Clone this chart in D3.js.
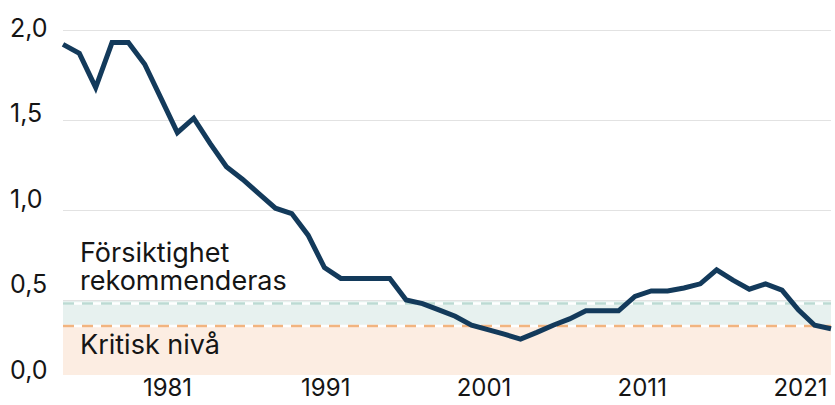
<!DOCTYPE html>
<html>
<head>
<meta charset="utf-8">
<script src="https://cdn.jsdelivr.net/npm/d3@7"></script>
<style>
  body { margin: 0; background: #fff; }
  svg text { font-family: Inter, "Noto Sans", sans-serif; fill: #151515; }
  .grid line { stroke: #e2e2e2; stroke-width: 1; }
  .grid path { display: none; }
  .ticks path { display: none; }
</style>
</head>
<body>
<div class="chart"></div>
<script>
// values
var years = d3.range(1975, 2023);
var values = [1.92, 1.87, 1.68, 1.93, 1.93, 1.81, 1.62, 1.43, 1.51, 1.37, 1.24, 1.17, 1.09, 1.01, 0.98, 0.86,
              0.68, 0.62, 0.62, 0.62, 0.62, 0.50, 0.48, 0.445, 0.41, 0.36, 0.335, 0.31, 0.283, 0.32, 0.36, 0.395,
              0.44, 0.44, 0.44, 0.52, 0.55, 0.55, 0.567, 0.59, 0.667, 0.61, 0.56, 0.59, 0.555, 0.445, 0.36, 0.34];
var yTicks = [0, 0.5, 1.0, 1.5, 2.0];
var xTicks = [1981, 1991, 2001, 2011, 2021];
var cautionLevel = 0.48;
var criticalLevel = 0.355;
var cautionText = ["Försiktighet", "rekommenderas"];
var criticalText = "Kritisk nivå";

var svgWidth = 835;
var svgHeight = 405;
var plotLeft = 63, plotRight = 831, plotBottom = 375;

var svg = d3.select(".chart")
    .append("svg")
    .attr("width", svgWidth)
    .attr("height", svgHeight);

var x = d3.scaleLinear().domain([1975, 2022]).range([plotLeft, plotRight]);
var y = d3.scaleLinear().domain([0, 2]).range([390, 30]);
// tick labels sit on their own scale in the original graphic
var yLabel = d3.scaleLinear().domain([0, 2]).range([370, 28]);
var xLabel = d3.scaleLinear().domain([1981, 2021]).range([167, 800]);

// shaded zones
svg.append("rect")
    .attr("x", plotLeft).attr("width", plotRight - plotLeft)
    .attr("y", y(0.5)).attr("height", y(criticalLevel) - y(0.5))
    .attr("fill", "#e7f1ef");
svg.append("rect")
    .attr("x", plotLeft).attr("width", plotRight - plotLeft)
    .attr("y", y(criticalLevel)).attr("height", plotBottom - y(criticalLevel))
    .attr("fill", "#fcede2");

// gridlines
svg.append("g")
    .attr("class", "grid")
    .attr("transform", "translate(" + plotLeft + ",0)")
    .call(d3.axisRight(y).tickValues([0.5, 1, 1.5, 2]).tickSize(plotRight - plotLeft).tickFormat(""));

// dashed threshold lines
[[cautionLevel, "#bcdad3"], [criticalLevel, "#f2b47f"]].forEach(function(d) {
    svg.append("line")
        .attr("x1", plotLeft).attr("x2", plotRight)
        .attr("y1", y(d[0])).attr("y2", y(d[0]))
        .attr("stroke", "#fff").attr("stroke-width", 2.5);
    svg.append("line")
        .attr("x1", plotLeft).attr("x2", plotRight)
        .attr("y1", y(d[0])).attr("y2", y(d[0]))
        .attr("stroke", d[1]).attr("stroke-width", 2.5)
        .attr("stroke-dasharray", "11,8");
});

// zone labels
svg.append("text")
    .attr("x", 80).attr("y", 262)
    .attr("font-size", 27)
    .selectAll("tspan")
    .data(cautionText)
    .enter()
    .append("tspan")
    .attr("x", 80)
    .attr("dy", function(d, i) { return i ? 28 : 0; })
    .text(function(d) { return d; });
svg.append("text")
    .attr("x", 80).attr("y", 354)
    .attr("font-size", 27)
    .text(criticalText);

// main line
var line = d3.line()
    .x(function(d, i) { return x(years[i]); })
    .y(function(d) { return y(d); });
svg.append("path")
    .datum(values)
    .attr("d", line)
    .attr("fill", "none")
    .attr("stroke", "#133a5b")
    .attr("stroke-width", 5)
    .attr("stroke-linejoin", "miter");

// y tick labels
var yAxis = svg.append("g")
    .attr("class", "ticks")
    .attr("transform", "translate(10,0)")
    .call(d3.axisLeft(yLabel).tickValues(yTicks).tickSize(0).tickPadding(0)
        .tickFormat(function(d) { return d3.format(".1f")(d).replace(".", ","); }));
yAxis.selectAll("text")
    .attr("text-anchor", "start")
    .attr("font-size", 25)
    .attr("font-family", null)
    .attr("fill", null);

// x tick labels
var xAxis = svg.append("g")
    .attr("class", "ticks")
    .attr("transform", "translate(0,379)")
    .call(d3.axisBottom(xLabel).tickValues(xTicks).tickSize(0).tickPadding(0).tickFormat(d3.format("d")));
xAxis.selectAll("text")
    .attr("font-size", 24)
    .attr("font-family", null)
    .attr("fill", null);
</script>
</body>
</html>
